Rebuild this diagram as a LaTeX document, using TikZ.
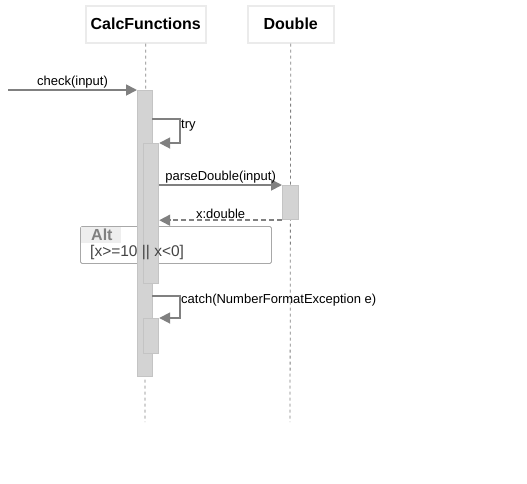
\documentclass[tikz,border=0pt]{standalone}
\usepackage{fontspec}
\setmainfont{Liberation Sans}
\usetikzlibrary{arrows.meta,calc}
\definecolor{linegray}{HTML}{808080}
\definecolor{barfill}{HTML}{D3D3D3}
\definecolor{barline}{HTML}{C4C4C4}
\definecolor{headline}{HTML}{EBEBEB}
\definecolor{altline}{HTML}{A8A8A8}
\definecolor{altbg}{HTML}{EEEEEE}
\definecolor{condtext}{HTML}{444444}
\begin{document}
\begin{tikzpicture}[x=1pt,y=-1pt,
  head/.style={draw=headline,line width=1.5pt,fill=white,inner sep=0pt,font=\bfseries\fontsize{16}{19}\selectfont},
  lifeline/.style={draw=linegray,line width=0.8pt,dash pattern=on 3pt off 3pt},
  bar/.style={draw=barline,line width=1.2pt,fill=barfill,inner sep=0pt,anchor=north west},
  msg/.style={draw=linegray,line width=1.8pt,-{Triangle[length=11pt,width=11pt]}},
  ret/.style={draw=linegray,line width=1.8pt,dash pattern=on 5pt off 3pt,-{Triangle[length=11pt,width=11pt]}},
  lbl/.style={font=\fontsize{13}{15}\selectfont,inner sep=0pt},
]
\useasboundingbox (0,0) rectangle (527,483);
% heads
\node[head,minimum width=120pt,minimum height=37pt,anchor=north west] (hc) at (85,5) {CalcFunctions};
\node[head,minimum width=86pt,minimum height=37pt,anchor=north west] (hd) at (247,5) {Double};
\coordinate (ec) at (145,422);
\coordinate (ed) at (290,422);
\draw[lifeline] (hc.south) -- (ec);
\draw[lifeline] (hd.south) -- (ed);
% alt box background
\node[draw=altline,line width=0.9pt,fill=white,rounded corners=1.5pt,minimum width=191pt,minimum height=37pt,anchor=north west,inner sep=0pt] (alt) at (80,226) {};
\node[fill=altbg,minimum width=40pt,minimum height=16pt,anchor=north west,inner sep=0pt] (altlab) at (81,227) {};
% activation bars
\node[bar,minimum width=15pt,minimum height=286pt] (a1) at (137,90) {};
\node[bar,minimum width=15pt,minimum height=140pt] (a2) at (143,143) {};
\node[bar,minimum width=15pt,minimum height=35pt] (a3) at (143,318) {};
\node[bar,minimum width=16pt,minimum height=34pt] (a4) at (282,185) {};
% alt texts
\node[lbl,anchor=west,text=linegray,font=\bfseries\fontsize{16}{18}\selectfont] (altt) at (91,235) {Alt};
\node[lbl,anchor=west,text=condtext,font=\fontsize{15.5}{17}\selectfont] (altc) at (90,253) {[x>=10 || x<0]};
% check
\coordinate (st) at (8,90);
\draw[msg] (st) -- (a1.north west) node[lbl,midway,above=0.5pt] (l1) {check(input)};
% try
\coordinate (t0) at (152,119);
\draw[msg] (t0) -- (180,119) |- (a2.north east);
\node[lbl,anchor=west] (l2) at (181,126) {try};
% parseDouble
\draw[msg] (a2.east |- a4.north west) -- (a4.north west) node[lbl,midway,above=0.5pt] (l3) {parseDouble(input)};
% return
\draw[ret] (a4.south west) -- (a2.east |- a4.south west) node[lbl,midway,above=1pt] (l4) {x:double};
% catch
\coordinate (c0) at (152,296);
\draw[msg] (c0) -- (180,296) |- (a3.north east);
\node[lbl,anchor=west] (l5) at (181,300) {catch(NumberFormatException e)};
\end{tikzpicture}
\end{document}
